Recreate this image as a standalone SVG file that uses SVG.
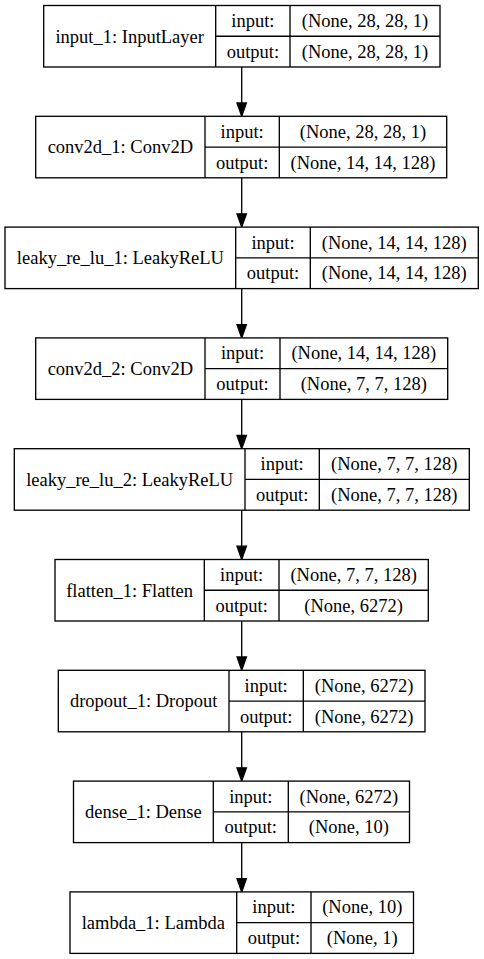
<svg xmlns="http://www.w3.org/2000/svg" width="484" height="959" viewBox="0 0 484 959">
<style>
.b{fill:#fff;stroke:#000;stroke-width:1.33}
.l{stroke:#000;stroke-width:1.33;fill:none}
text{font-family:"Liberation Serif","Times New Roman",serif;font-size:18.5px;fill:#000;text-anchor:middle}
.e{stroke:#000;stroke-width:1.33;fill:none}
.h{fill:#000;stroke:#000;stroke-width:1.33}
</style>
<rect width="484" height="959" fill="#fff"/>
<g id="connectors">
<line class="e" x1="241.7" y1="67" x2="241.7" y2="103"/><polygon class="h" points="237,103 246.4,103 241.7,116.3"/>
<line class="e" x1="241.7" y1="177.8" x2="241.7" y2="213.8"/><polygon class="h" points="237,213.8 246.4,213.8 241.7,227.1"/>
<line class="e" x1="241.7" y1="288.6" x2="241.7" y2="324.6"/><polygon class="h" points="237,324.6 246.4,324.6 241.7,337.9"/>
<line class="e" x1="241.7" y1="399.4" x2="241.7" y2="435.4"/><polygon class="h" points="237,435.4 246.4,435.4 241.7,448.7"/>
<line class="e" x1="241.7" y1="510.2" x2="241.7" y2="546.2"/><polygon class="h" points="237,546.2 246.4,546.2 241.7,559.5"/>
<line class="e" x1="241.7" y1="621" x2="241.7" y2="657"/><polygon class="h" points="237,657 246.4,657 241.7,670.3"/>
<line class="e" x1="241.7" y1="731.8" x2="241.7" y2="767.8"/><polygon class="h" points="237,767.8 246.4,767.8 241.7,781.1"/>
<line class="e" x1="241.7" y1="842.6" x2="241.7" y2="878.6"/><polygon class="h" points="237,878.6 246.4,878.6 241.7,891.9"/>
</g>
<g id="input_1">
<rect class="b" x="43.7" y="5.5" width="396.3" height="61.5"/>
<line class="l" x1="215.7" y1="5.5" x2="215.7" y2="67"/>
<line class="l" x1="290" y1="5.5" x2="290" y2="67"/>
<line class="l" x1="215.7" y1="36.25" x2="440" y2="36.25"/>
<text x="129.7" y="42.5">input_1: InputLayer</text>
<text x="252.85" y="27">input:</text>
<text x="252.85" y="57.7">output:</text>
<text x="365" y="27">(None, 28, 28, 1)</text>
<text x="365" y="57.7">(None, 28, 28, 1)</text>
</g>
<g id="conv2d_1">
<rect class="b" x="35.7" y="116.3" width="411" height="61.5"/>
<line class="l" x1="205" y1="116.3" x2="205" y2="177.8"/>
<line class="l" x1="279.3" y1="116.3" x2="279.3" y2="177.8"/>
<line class="l" x1="205" y1="147.05" x2="446.7" y2="147.05"/>
<text x="120.35" y="153.3">conv2d_1: Conv2D</text>
<text x="242.15" y="137.8">input:</text>
<text x="242.15" y="168.5">output:</text>
<text x="363" y="137.8">(None, 28, 28, 1)</text>
<text x="363" y="168.5">(None, 14, 14, 128)</text>
</g>
<g id="leaky_re_lu_1">
<rect class="b" x="5" y="227.1" width="473.3" height="61.5"/>
<line class="l" x1="235.7" y1="227.1" x2="235.7" y2="288.6"/>
<line class="l" x1="310.3" y1="227.1" x2="310.3" y2="288.6"/>
<line class="l" x1="235.7" y1="257.85" x2="478.3" y2="257.85"/>
<text x="120.35" y="264.1">leaky_re_lu_1: LeakyReLU</text>
<text x="273" y="248.6">input:</text>
<text x="273" y="279.3">output:</text>
<text x="394.3" y="248.6">(None, 14, 14, 128)</text>
<text x="394.3" y="279.3">(None, 14, 14, 128)</text>
</g>
<g id="conv2d_2">
<rect class="b" x="35.7" y="337.9" width="412" height="61.5"/>
<line class="l" x1="205" y1="337.9" x2="205" y2="399.4"/>
<line class="l" x1="280" y1="337.9" x2="280" y2="399.4"/>
<line class="l" x1="205" y1="368.65" x2="447.7" y2="368.65"/>
<text x="120.35" y="374.9">conv2d_2: Conv2D</text>
<text x="242.5" y="359.4">input:</text>
<text x="242.5" y="390.1">output:</text>
<text x="363.85" y="359.4">(None, 14, 14, 128)</text>
<text x="363.85" y="390.1">(None, 7, 7, 128)</text>
</g>
<g id="leaky_re_lu_2">
<rect class="b" x="14.3" y="448.7" width="455" height="61.5"/>
<line class="l" x1="245" y1="448.7" x2="245" y2="510.2"/>
<line class="l" x1="319.3" y1="448.7" x2="319.3" y2="510.2"/>
<line class="l" x1="245" y1="479.45" x2="469.3" y2="479.45"/>
<text x="129.65" y="485.7">leaky_re_lu_2: LeakyReLU</text>
<text x="282.15" y="470.2">input:</text>
<text x="282.15" y="500.9">output:</text>
<text x="394.3" y="470.2">(None, 7, 7, 128)</text>
<text x="394.3" y="500.9">(None, 7, 7, 128)</text>
</g>
<g id="flatten_1">
<rect class="b" x="55" y="559.5" width="373.3" height="61.5"/>
<line class="l" x1="204.3" y1="559.5" x2="204.3" y2="621"/>
<line class="l" x1="279" y1="559.5" x2="279" y2="621"/>
<line class="l" x1="204.3" y1="590.25" x2="428.3" y2="590.25"/>
<text x="129.65" y="596.5">flatten_1: Flatten</text>
<text x="241.65" y="581">input:</text>
<text x="241.65" y="611.7">output:</text>
<text x="353.65" y="581">(None, 7, 7, 128)</text>
<text x="353.65" y="611.7">(None, 6272)</text>
</g>
<g id="dropout_1">
<rect class="b" x="58.3" y="670.3" width="366.7" height="61.5"/>
<line class="l" x1="229" y1="670.3" x2="229" y2="731.8"/>
<line class="l" x1="303.3" y1="670.3" x2="303.3" y2="731.8"/>
<line class="l" x1="229" y1="701.05" x2="425" y2="701.05"/>
<text x="143.65" y="707.3">dropout_1: Dropout</text>
<text x="266.15" y="691.8">input:</text>
<text x="266.15" y="722.5">output:</text>
<text x="364.15" y="691.8">(None, 6272)</text>
<text x="364.15" y="722.5">(None, 6272)</text>
</g>
<g id="dense_1">
<rect class="b" x="73.5" y="781.1" width="336" height="61.5"/>
<line class="l" x1="213.3" y1="781.1" x2="213.3" y2="842.6"/>
<line class="l" x1="288.3" y1="781.1" x2="288.3" y2="842.6"/>
<line class="l" x1="213.3" y1="811.85" x2="409.5" y2="811.85"/>
<text x="143.4" y="818.1">dense_1: Dense</text>
<text x="250.8" y="802.6">input:</text>
<text x="250.8" y="833.3">output:</text>
<text x="348.9" y="802.6">(None, 6272)</text>
<text x="348.9" y="833.3">(None, 10)</text>
</g>
<g id="lambda_1">
<rect class="b" x="70" y="891.9" width="343.5" height="61.5"/>
<line class="l" x1="236.7" y1="891.9" x2="236.7" y2="953.4"/>
<line class="l" x1="311" y1="891.9" x2="311" y2="953.4"/>
<line class="l" x1="236.7" y1="922.65" x2="413.5" y2="922.65"/>
<text x="153.35" y="928.9">lambda_1: Lambda</text>
<text x="273.85" y="913.4">input:</text>
<text x="273.85" y="944.1">output:</text>
<text x="362.25" y="913.4">(None, 10)</text>
<text x="362.25" y="944.1">(None, 1)</text>
</g>
</svg>
